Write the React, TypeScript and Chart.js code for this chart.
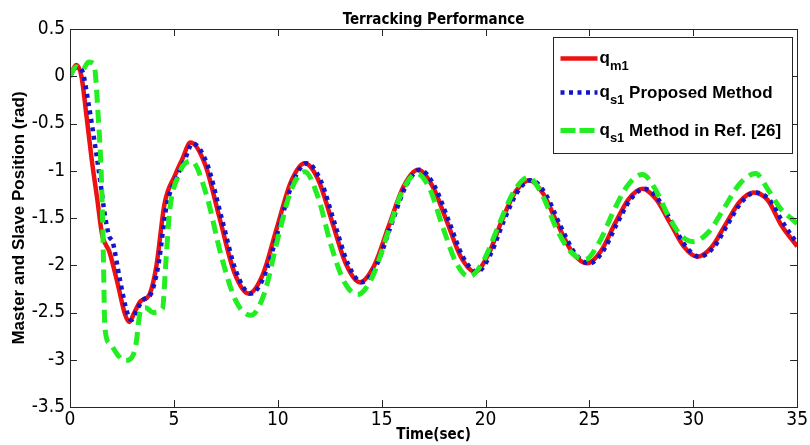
import { useEffect, useRef } from "react";
import { Chart, registerables } from "chart.js";
Chart.register(...registerables);

// ---- data ----
const redT = [0, 0.3, 0.55, 0.8, 1.05, 1.3, 1.55, 1.9, 2.3, 2.65, 2.85, 3.1, 3.4, 3.8, 4.15, 4.55, 5.05, 5.4, 5.8, 6.5, 7.2, 7.9, 8.6, 9.28, 9.95, 10.63, 11.3, 11.96, 12.63, 13.29, 13.95, 14.65, 15.35, 16.05, 16.75, 17.44, 18.13, 18.81, 19.5, 20.15, 20.8, 21.45, 22.1, 22.8, 23.5, 24.2, 24.9, 25.56, 26.23, 26.89, 27.55, 28.21, 28.88, 29.54, 30.2, 30.88, 31.55, 32.23, 32.9, 33.58, 34.25, 35];
const redV = [0, 0.12, 0, -0.43, -0.89, -1.28, -1.68, -1.86, -2.2, -2.52, -2.6, -2.5, -2.38, -2.32, -2.02, -1.35, -1.05, -0.88, -0.7, -0.93, -1.5, -2.07, -2.3, -2.1, -1.61, -1.12, -0.92, -1.1, -1.55, -1.99, -2.18, -2.0, -1.58, -1.17, -0.99, -1.16, -1.53, -1.91, -2.07, -1.88, -1.52, -1.22, -1.1, -1.25, -1.58, -1.87, -1.98, -1.85, -1.56, -1.3, -1.19, -1.3, -1.55, -1.8, -1.91, -1.81, -1.57, -1.33, -1.23, -1.31, -1.58, -1.8];

const blueT = [0, 0.35, 0.6, 0.9, 1.2, 1.45, 1.7, 1.9, 2.05, 2.4, 2.75, 2.95, 3.2, 3.5, 3.9, 4.25, 4.65, 5.15, 5.5, 5.9, 6.6, 7.3, 8.0, 8.7, 9.38, 10.05, 10.73, 11.4, 12.06, 12.73, 13.39, 14.05, 14.75, 15.45, 16.15, 16.85, 17.54, 18.23, 18.91, 19.6, 20.25, 20.9, 21.55, 22.2, 22.9, 23.6, 24.3, 25.0, 25.66, 26.33, 26.99, 27.65, 28.31, 28.98, 29.64, 30.3, 30.98, 31.65, 32.33, 33.0, 33.68, 34.35, 35];
const blueV = [0, 0.1, 0.05, -0.3, -0.72, -1.1, -1.5, -1.7, -1.75, -2.15, -2.5, -2.58, -2.48, -2.37, -2.3, -2.0, -1.37, -1.06, -0.9, -0.71, -0.93, -1.5, -2.07, -2.3, -2.1, -1.61, -1.12, -0.92, -1.1, -1.55, -1.99, -2.18, -2.0, -1.58, -1.17, -0.99, -1.16, -1.53, -1.91, -2.07, -1.88, -1.52, -1.22, -1.1, -1.25, -1.58, -1.87, -1.98, -1.85, -1.56, -1.3, -1.19, -1.3, -1.55, -1.8, -1.91, -1.81, -1.57, -1.33, -1.23, -1.31, -1.56, -1.77];

const greenT = [0, 0.3, 0.6, 0.9, 1.15, 1.36, 1.52, 1.6, 1.68, 1.92, 2.3, 2.6, 2.85, 3.15, 3.4, 3.65, 4.0, 4.45, 4.62, 4.8, 5.2, 5.55, 5.85, 6.56, 7.28, 7.99, 8.7, 9.35, 10.0, 10.65, 11.3, 11.94, 12.58, 13.21, 13.85, 14.56, 15.28, 15.99, 16.7, 17.33, 17.95, 18.58, 19.2, 19.91, 20.63, 21.34, 22.05, 22.74, 23.43, 24.11, 24.8, 25.49, 26.18, 26.86, 27.55, 28.16, 28.78, 29.39, 30.0, 30.75, 31.5, 32.25, 33.0, 33.6, 34.2, 34.8, 35];
const greenV = [0, 0.1, 0.07, 0.15, 0.13, -0.43, -1.13, -1.84, -2.66, -2.83, -2.95, -3.01, -3.0, -2.87, -2.48, -2.45, -2.5, -2.46, -1.95, -1.42, -1.06, -0.92, -0.9, -1.25, -1.9, -2.38, -2.53, -2.3, -1.72, -1.2, -1.01, -1.28, -1.8, -2.18, -2.31, -2.12, -1.67, -1.22, -1.03, -1.2, -1.6, -1.97, -2.12, -1.95, -1.58, -1.23, -1.07, -1.26, -1.62, -1.86, -1.94, -1.75, -1.42, -1.15, -1.04, -1.19, -1.47, -1.68, -1.75, -1.645, -1.39, -1.135, -1.03, -1.2, -1.4, -1.52, -1.56];

const xTicks = [0, 5, 10, 15, 20, 25, 30, 35];
const yTicks = [0.5, 0, -0.5, -1, -1.5, -2, -2.5, -3, -3.5];
const chartTitle = "Terracking Performance";
const xTitle = "Time(sec)";
const yTitle = "Master and Slave Position (rad)";
const legendMain = ["q", "q", "q"];
const legendSub = ["m1", "s1", "s1"];
const legendRest = ["", " Proposed Method", " Method in Ref. [26]"];

const NARROW = '"Liberation Sans Narrow", "DejaVu Sans Condensed", sans-serif';
const SANS = '"Liberation Sans", Arial, sans-serif';

const RED = "#ee1111";
const BLUE = "#1414cc";
const GREEN = "#22ee22";

const pts = (t: number[], v: number[]) => t.map((x, i) => ({ x, y: v[i] }));

const framePlugin = {
  id: "matlabFrame",
  afterDatasetsDraw(chart: any) {
    const { ctx, chartArea: a, scales } = chart;
    const x = scales.x;
    const y = scales.y;
    ctx.save();
    ctx.strokeStyle = "#262626";
    ctx.lineWidth = 1;
    const L = 7;
    ctx.beginPath();
    for (const v of xTicks) {
      const px = Math.round(x.getPixelForValue(v)) + 0.5;
      ctx.moveTo(px, a.bottom);
      ctx.lineTo(px, a.bottom - L);
      ctx.moveTo(px, a.top);
      ctx.lineTo(px, a.top + L);
    }
    for (const v of yTicks) {
      const py = Math.round(y.getPixelForValue(v)) + 0.5;
      ctx.moveTo(a.left, py);
      ctx.lineTo(a.left + L, py);
      ctx.moveTo(a.right, py);
      ctx.lineTo(a.right - L, py);
    }
    ctx.stroke();
    ctx.strokeRect(Math.round(a.left) + 0.5, Math.round(a.top) + 0.5, Math.round(a.right - a.left), Math.round(a.bottom - a.top));
    ctx.fillStyle = "#000";
    ctx.font = "bold 15px " + NARROW;
    ctx.textAlign = "center";
    ctx.textBaseline = "alphabetic";
    ctx.fillText(chartTitle, (a.left + a.right) / 2, a.top - 5);
    ctx.restore();
  },
  afterDraw(chart: any) {
    const { ctx, chartArea: a } = chart;
    const bw = 239;
    const bh = 116;
    const bx = Math.round(a.right - 5 - bw) + 0.5;
    const by = Math.round(a.top + 8) + 0.5;
    ctx.save();
    ctx.fillStyle = "#fff";
    ctx.fillRect(bx, by, bw, bh);
    ctx.strokeStyle = "#262626";
    ctx.lineWidth = 1;
    ctx.strokeRect(bx, by, bw, bh);
    const rowY = [21, 55, 93];
    chart.data.datasets.forEach((ds: any, i: number) => {
      const ly = by + rowY[i];
      ctx.save();
      ctx.strokeStyle = ds.borderColor;
      ctx.lineWidth = ds.borderWidth;
      ctx.setLineDash(i === 2 ? [15, 4] : ds.borderDash || []);
      ctx.beginPath();
      ctx.moveTo(bx + 7, ly);
      ctx.lineTo(bx + 44, ly);
      ctx.stroke();
      ctx.restore();
      ctx.fillStyle = "#000";
      ctx.textAlign = "left";
      ctx.textBaseline = "alphabetic";
      let tx = bx + 46;
      ctx.font = "bold 17px " + SANS;
      ctx.fillText(legendMain[i], tx, ly + 4);
      tx += ctx.measureText(legendMain[i]).width;
      ctx.font = "bold 13px " + SANS;
      ctx.fillText(legendSub[i], tx, ly + 11);
      tx += ctx.measureText(legendSub[i]).width;
      ctx.font = "bold 17px " + SANS;
      ctx.fillText(legendRest[i], tx, ly + 5);
    });
    ctx.restore();
  },
};

export default function App() {
  const ref = useRef<HTMLCanvasElement>(null);
  useEffect(() => {
    document.body.style.margin = "0";
    const common = { pointRadius: 0, fill: false, cubicInterpolationMode: "monotone" };
    const chart = new Chart(ref.current as HTMLCanvasElement, {
      type: "line",
      data: {
        datasets: [
          { label: "q_m1", data: pts(redT, redV), borderColor: RED, borderWidth: 4.5, order: 2, ...common },
          { label: "q_s1 Proposed Method", data: pts(blueT, blueV), borderColor: BLUE, borderWidth: 4.5, borderDash: [4, 4.5], order: 1, ...common },
          { label: "q_s1 Method in Ref. [26]", data: pts(greenT, greenV), borderColor: GREEN, borderWidth: 5, borderDash: [13, 7], order: 0, ...common },
        ],
      } as any,
      options: {
        responsive: false,
        animation: false,
        devicePixelRatio: 1,
        layout: { padding: { left: 0, right: 10, top: 29, bottom: 0 } },
        plugins: { legend: { display: false }, tooltip: { enabled: false }, title: { display: false } },
        scales: {
          x: {
            type: "linear",
            min: 0,
            max: 35,
            afterBuildTicks: (s: any) => {
              s.ticks = xTicks.map((value) => ({ value }));
            },
            afterFit: (s: any) => {
              s.height = 38;
            },
            grid: { display: false, drawTicks: false },
            border: { display: false },
            ticks: { color: "#000", font: { family: NARROW, size: 19 }, padding: 2, maxRotation: 0, autoSkip: false },
            title: { display: true, text: xTitle, color: "#000", font: { family: NARROW, size: 15, weight: "bold" }, padding: { top: 0, bottom: 1 } },
          },
          y: {
            type: "linear",
            min: -3.5,
            max: 0.5,
            afterBuildTicks: (s: any) => {
              s.ticks = yTicks.map((value) => ({ value }));
            },
            afterFit: (s: any) => {
              s.width = 70;
            },
            grid: { display: false, drawTicks: false },
            border: { display: false },
            ticks: { color: "#000", font: { family: NARROW, size: 19 }, padding: 5, autoSkip: false, callback: (v: any) => String(v) },
            title: { display: true, text: yTitle, color: "#000", font: { family: SANS, size: 17, weight: "bold" }, padding: { top: 9, bottom: 0 } },
          },
        },
      } as any,
      plugins: [framePlugin as any],
    });
    return () => chart.destroy();
  }, []);
  return (
    <div style={{ width: 810, height: 445, position: "relative", background: "#fff" }}>
      <canvas ref={ref} width={810} height={445} />
    </div>
  );
}
